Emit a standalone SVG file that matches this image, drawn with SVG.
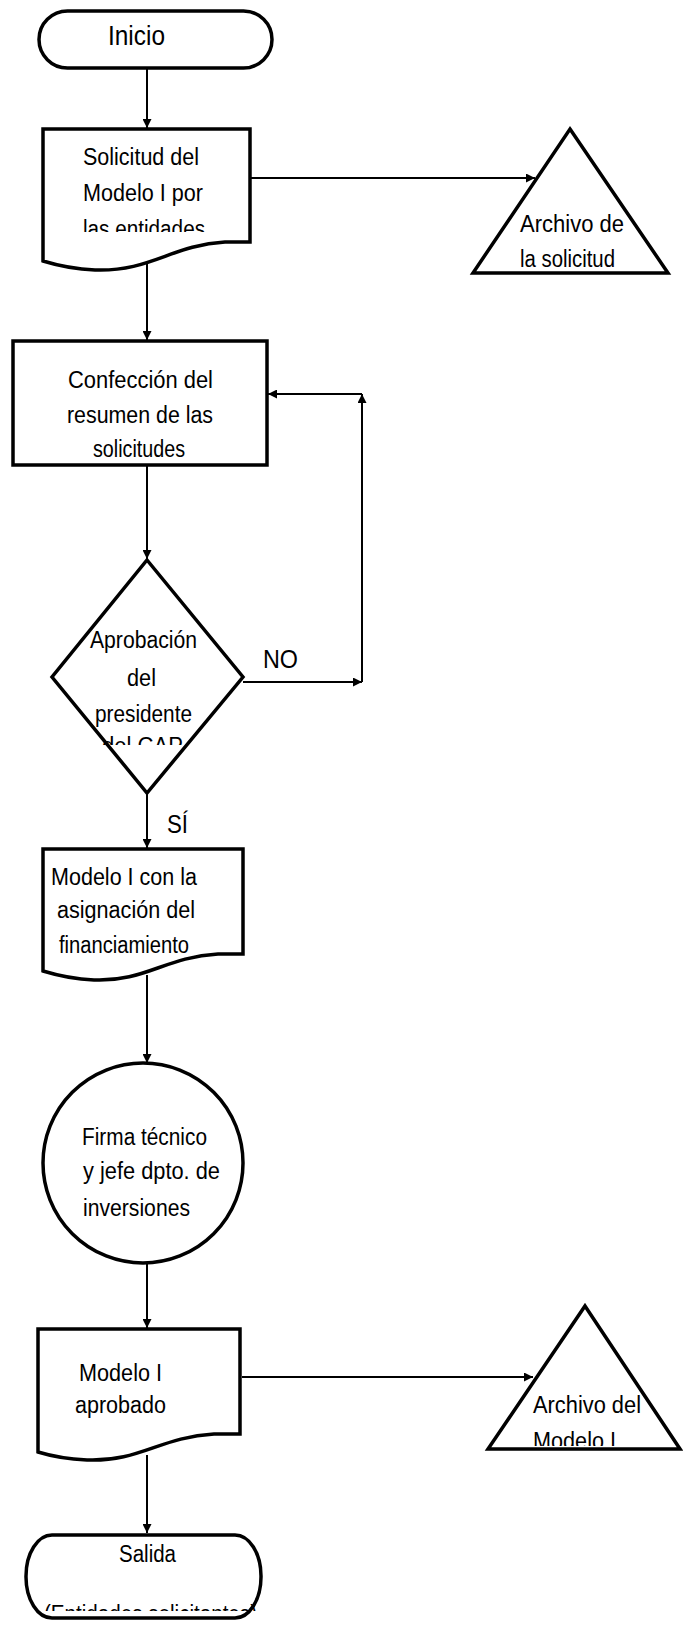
<svg xmlns="http://www.w3.org/2000/svg" width="683" height="1627" viewBox="0 0 683 1627">
  <style>
    .shape { fill: #ffffff; stroke: #000000; stroke-width: 3.5; stroke-linejoin: miter; }
    .conn { fill: none; stroke: #000000; stroke-width: 2; }
    .lbl { font-family: "Liberation Sans", Arial, sans-serif; font-size: 23px; fill: #000000; }
    .big { font-size: 28px; }
    .mid { font-size: 25px; }
  </style>
  <defs>
    <marker id="arrow" viewBox="0 0 10 10" refX="10" refY="5" markerWidth="9" markerHeight="9" markerUnits="userSpaceOnUse" orient="auto">
      <path d="M0,0 L10,5 L0,10 Z" fill="#000000"/>
    </marker>
    <clipPath id="clipDoc1"><rect x="40" y="130" width="215" height="102"/></clipPath>
    <clipPath id="clipDiamond"><rect x="50" y="560" width="200" height="185"/></clipPath>
    <clipPath id="clipArch2"><rect x="480" y="1300" width="203" height="146"/></clipPath>
    <clipPath id="clipSalida"><rect x="26" y="1535" width="240" height="76"/></clipPath>
  </defs>

  <!-- connectors -->
  <g id="connectors">
    <line class="conn" x1="147" y1="68" x2="147" y2="128" marker-end="url(#arrow)"/>
    <line class="conn" x1="248" y1="178" x2="535" y2="178" marker-end="url(#arrow)"/>
    <line class="conn" x1="147" y1="258" x2="147" y2="340" marker-end="url(#arrow)"/>
    <line class="conn" x1="147" y1="465" x2="147" y2="559" marker-end="url(#arrow)"/>
    <line class="conn" x1="243" y1="682" x2="362" y2="682" marker-end="url(#arrow)"/>
    <line class="conn" x1="362" y1="682" x2="362" y2="394" marker-end="url(#arrow)"/>
    <line class="conn" x1="362" y1="394" x2="268" y2="394" marker-end="url(#arrow)"/>
    <line class="conn" x1="147" y1="793" x2="147" y2="848" marker-end="url(#arrow)"/>
    <line class="conn" x1="147" y1="975" x2="147" y2="1063" marker-end="url(#arrow)"/>
    <line class="conn" x1="147" y1="1263" x2="147" y2="1328" marker-end="url(#arrow)"/>
    <line class="conn" x1="242" y1="1377" x2="533" y2="1377" marker-end="url(#arrow)"/>
    <line class="conn" x1="147" y1="1455" x2="147" y2="1533" marker-end="url(#arrow)"/>
    <text class="lbl mid" x="263" y="668" textLength="35" lengthAdjust="spacingAndGlyphs">NO</text>
    <text class="lbl mid" x="167" y="833" textLength="21" lengthAdjust="spacingAndGlyphs">SÍ</text>
  </g>

  <!-- start terminator -->
  <g id="inicio">
    <rect class="shape" x="39" y="11" width="233" height="57" rx="28.5" ry="28.5"/>
    <text class="lbl big" x="108" y="45" textLength="57" lengthAdjust="spacingAndGlyphs">Inicio</text>
  </g>

  <!-- request document -->
  <g id="solicitud">
    <path class="shape" d="M43,129 H250 V242 H225 C172,245 150,272 95,270 C72,269 56,265 43,261 Z"/>
    <g clip-path="url(#clipDoc1)">
      <text class="lbl" x="83" y="165" textLength="116" lengthAdjust="spacingAndGlyphs">Solicitud  del</text>
      <text class="lbl" x="83" y="201" textLength="120" lengthAdjust="spacingAndGlyphs">Modelo I por</text>
      <text class="lbl" x="83" y="237" textLength="122" lengthAdjust="spacingAndGlyphs">las entidades</text>
    </g>
  </g>

  <!-- request archive -->
  <g id="archivo-solicitud">
    <polygon class="shape" points="570,129 668,273 473,273"/>
    <text class="lbl" x="520" y="232" textLength="104" lengthAdjust="spacingAndGlyphs">Archivo de</text>
    <text class="lbl" x="520" y="267" textLength="95" lengthAdjust="spacingAndGlyphs">la solicitud</text>
  </g>

  <!-- summary process -->
  <g id="confeccion">
    <rect class="shape" x="13" y="341" width="254" height="124"/>
    <text class="lbl" x="68" y="388" textLength="145" lengthAdjust="spacingAndGlyphs">Confección  del</text>
    <text class="lbl" x="67" y="423" textLength="146" lengthAdjust="spacingAndGlyphs">resumen  de las</text>
    <text class="lbl" x="93" y="457" textLength="92" lengthAdjust="spacingAndGlyphs">solicitudes</text>
  </g>

  <!-- approval decision -->
  <g id="aprobacion">
    <polygon class="shape" points="147,560 243,677 147,793 52,677"/>
    <g clip-path="url(#clipDiamond)">
      <text class="lbl" x="90" y="648" textLength="107" lengthAdjust="spacingAndGlyphs">Aprobación</text>
      <text class="lbl" x="127" y="686" textLength="29" lengthAdjust="spacingAndGlyphs">del</text>
      <text class="lbl" x="95" y="722" textLength="97" lengthAdjust="spacingAndGlyphs">presidente</text>
      <text class="lbl" x="102" y="754" textLength="81" lengthAdjust="spacingAndGlyphs">del CAP</text>
    </g>
  </g>

  <!-- financing document -->
  <g id="asignacion">
    <path class="shape" d="M43,849 H243 V954 H218 C165,957 145,982 94,980 C72,979 56,975 43,971 Z"/>
    <text class="lbl" x="51" y="885" textLength="146" lengthAdjust="spacingAndGlyphs">Modelo I con la</text>
    <text class="lbl" x="57" y="918" textLength="138" lengthAdjust="spacingAndGlyphs">asignación  del</text>
    <text class="lbl" x="59" y="953" textLength="130" lengthAdjust="spacingAndGlyphs">financiamiento</text>
  </g>

  <!-- signature connector circle -->
  <g id="firma">
    <circle class="shape" cx="143" cy="1163" r="100"/>
    <text class="lbl" x="82" y="1145" textLength="125" lengthAdjust="spacingAndGlyphs">Firma técnico</text>
    <text class="lbl" x="83" y="1179" textLength="137" lengthAdjust="spacingAndGlyphs">y jefe dpto.  de</text>
    <text class="lbl" x="83" y="1216" textLength="107" lengthAdjust="spacingAndGlyphs">inversiones</text>
  </g>

  <!-- approved document -->
  <g id="aprobado">
    <path class="shape" d="M38,1329 H240 V1434 H214 C160,1437 140,1462 87,1460 C66,1459 51,1456 38,1452 Z"/>
    <text class="lbl" x="79" y="1381" textLength="83" lengthAdjust="spacingAndGlyphs">Modelo I</text>
    <text class="lbl" x="75" y="1413" textLength="91" lengthAdjust="spacingAndGlyphs">aprobado</text>
  </g>

  <!-- approved model archive -->
  <g id="archivo-modelo">
    <polygon class="shape" points="585,1306 680,1449 488,1449"/>
    <text class="lbl" x="533" y="1413" textLength="108" lengthAdjust="spacingAndGlyphs">Archivo del</text>
    <g clip-path="url(#clipArch2)">
      <text class="lbl" x="533" y="1449" textLength="83" lengthAdjust="spacingAndGlyphs">Modelo I</text>
    </g>
  </g>

  <!-- end terminator -->
  <g id="salida">
    <rect class="shape" x="26" y="1535" width="235" height="83" rx="26" ry="41"/>
    <text class="lbl" x="119" y="1562" textLength="57" lengthAdjust="spacingAndGlyphs">Salida</text>
    <g clip-path="url(#clipSalida)">
      <text class="lbl" x="44" y="1622" textLength="213" lengthAdjust="spacingAndGlyphs">(Entidades  solicitantes)</text>
    </g>
  </g>
</svg>
